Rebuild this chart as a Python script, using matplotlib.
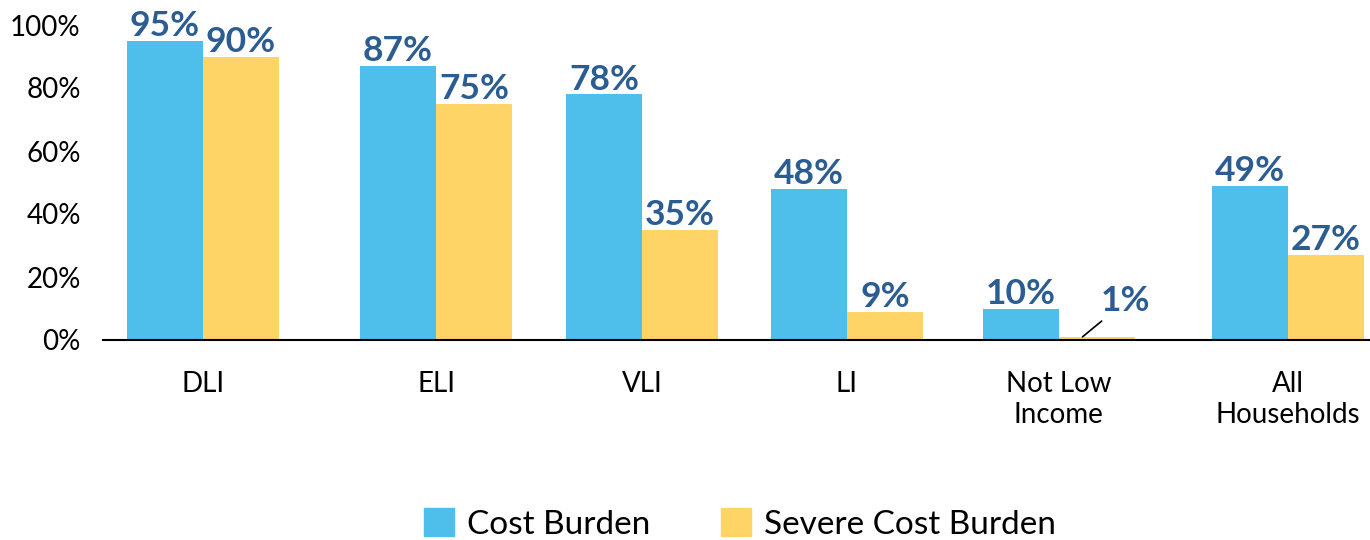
import matplotlib
matplotlib.use("Agg")
import matplotlib.pyplot as plt
from matplotlib.patches import Rectangle

categories = ["DLI", "ELI", "VLI", "LI", "Not Low\nIncome", "All\nHouseholds"]
cost_burden = [95, 87, 78, 48, 10, 49]
severe_cost_burden = [90, 75, 35, 9, 1, 27]
yticks = [0, 20, 40, 60, 80, 100]
series_names = ["Cost Burden", "Severe Cost Burden"]

# layout (pixel-like x units)
group_centers = [203, 436, 642, 847, 1058.5, 1288]
bar_w = 76

BLUE = "#4DBFEA"
YELLOW = "#FFD466"
LABEL = "#2B5C92"

plt.rcParams['font.family'] = ['Lato', 'DejaVu Sans']

fig = plt.figure(figsize=(13.7, 5.4), dpi=100)
ax = fig.add_axes([103/1370, 200/540, 1267/1370, 340/540])
ax.set_xlim(103, 1370)
ax.set_ylim(0, 340/3.15)

xb = [c - bar_w/2 for c in group_centers]
xy = [c + bar_w/2 for c in group_centers]
ax.bar(xb, cost_burden, width=bar_w, color=BLUE, label=series_names[0])
ax.bar(xy, severe_cost_burden, width=bar_w, color=YELLOW, label=series_names[1])

LFS = 25.5
for x, v in zip(xb, cost_burden):
    ax.annotate(f"{v}%", (x, v), xytext=(0, -1), textcoords="offset points",
                ha="center", va="bottom", fontsize=LFS, fontweight="bold", color=LABEL)
for x, v in zip(xy, severe_cost_burden):
    if v < 3:
        ax.annotate(f"{v}%", (x - 14, v), xytext=(31, 14), textcoords="offset points",
                    ha="center", va="bottom", fontsize=LFS, fontweight="bold", color=LABEL,
                    arrowprops=dict(arrowstyle="-", color="black", lw=1.2,
                                    shrinkA=1, shrinkB=0))
    else:
        ax.annotate(f"{v}%", (x, v), xytext=(0, -1), textcoords="offset points",
                    ha="center", va="bottom", fontsize=LFS, fontweight="bold", color=LABEL)

ax.set_yticks(yticks)
ax.set_yticklabels([f"{t}%" for t in yticks], fontsize=20)
ax.set_xticks(group_centers)
ax.set_xticklabels(categories, fontsize=20, linespacing=1.25, va="top")
ax.tick_params(axis="y", length=0, pad=16)
ax.tick_params(axis="x", length=0, pad=22)
for s in ["left", "right", "top"]:
    ax.spines[s].set_visible(False)
ax.spines["bottom"].set_linewidth(1.5)
ax.spines["bottom"].set_color("black")

handles = [Rectangle((0, 0), 1, 1, color=BLUE), Rectangle((0, 0), 1, 1, color=YELLOW)]
fig.legend(handles, series_names, loc="center", bbox_to_anchor=(740/1370, 1 - 524/540),
           ncol=2, frameon=False, fontsize=24, handlelength=0.9, handleheight=0.9,
           handletextpad=0.4, columnspacing=2.1, borderpad=0)

fig.savefig("out.png", dpi=100)
